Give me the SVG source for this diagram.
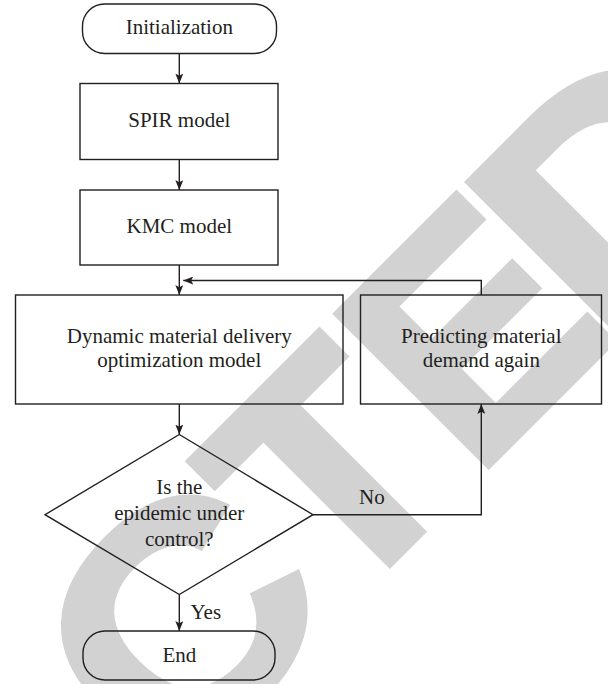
<svg xmlns="http://www.w3.org/2000/svg" width="608" height="684" viewBox="0 0 608 684">
<defs>
<style>
.wm{font-family:"Liberation Sans",Arial,sans-serif;font-weight:bold;font-size:310px;fill:#d2d2d2;stroke:#d2d2d2;stroke-width:8;stroke-linejoin:miter}
.box{fill:none;stroke:#231f20;stroke-width:1.4}
.lbl{font-family:"Liberation Serif","Times New Roman",serif;font-size:21px;fill:#231f20;text-anchor:middle}
.side{font-family:"Liberation Serif","Times New Roman",serif;font-size:21px;fill:#231f20}
.conn{fill:none;stroke:#231f20;stroke-width:1.4}
</style>
<marker id="ah" viewBox="0 0 10 8" refX="10" refY="4" markerWidth="10" markerHeight="8" markerUnits="userSpaceOnUse" orient="auto">
<path d="M0,0 L10,4 L0,8 L2.2,4 z" fill="#231f20"/>
</marker>
</defs>
<rect width="608" height="684" fill="#ffffff"/>
<g id="watermark" transform="rotate(-45)">
<text class="wm" x="-446" y="674" text-anchor="end">RETRA</text>
<text class="wm" transform="translate(-438,674) scale(1.12,1)" x="0" y="0">C</text>
<text class="wm" x="-195" y="674">T</text>
<text class="wm" x="-3.6" y="674">E</text>
<text class="wm" transform="translate(180.7,674) scale(1.12,1)" x="0" y="0">D</text>
</g>
<g id="connectors">
<line class="conn" x1="179.3" y1="53.5" x2="179.3" y2="83.5" marker-end="url(#ah)"/>
<line class="conn" x1="179.3" y1="159.5" x2="179.3" y2="190" marker-end="url(#ah)"/>
<line class="conn" x1="179.3" y1="265" x2="179.3" y2="295" marker-end="url(#ah)"/>
<polyline class="conn" points="481.3,295 481.3,280.5 183.3,280.5" marker-end="url(#ah)"/>
<line class="conn" x1="179.3" y1="404" x2="179.3" y2="434.5" marker-end="url(#ah)"/>
<polyline class="conn" points="313,514.7 481.3,514.7 481.3,404" marker-end="url(#ah)"/>
<line class="conn" x1="179.3" y1="594.5" x2="179.3" y2="631" marker-end="url(#ah)"/>
<text class="side" x="359" y="504">No</text>
<text class="side" x="190.5" y="619">Yes</text>
</g>
<g id="init">
<rect class="box" x="82.5" y="4" width="194" height="49.5" rx="22" ry="22"/>
<text class="lbl" x="179.3" y="34.3">Initialization</text>
</g>
<g id="spir">
<rect class="box" x="80" y="83.5" width="198" height="76"/>
<text class="lbl" x="179.3" y="126.7">SPIR model</text>
</g>
<g id="kmc">
<rect class="box" x="80" y="190" width="198" height="75"/>
<text class="lbl" x="179.3" y="233">KMC model</text>
</g>
<g id="dynamic">
<rect class="box" x="15.5" y="295" width="327.5" height="109"/>
<text class="lbl" x="179.3" y="342.5">Dynamic material delivery</text>
<text class="lbl" x="179.3" y="367">optimization model</text>
</g>
<g id="predict">
<rect class="box" x="360.5" y="295" width="241" height="109"/>
<text class="lbl" x="481.3" y="342.5">Predicting material</text>
<text class="lbl" x="481.3" y="367">demand again</text>
</g>
<g id="decision">
<polygon class="box" points="179.3,434.5 313,514.7 179.3,594.5 45,514.7"/>
<text class="lbl" x="179.3" y="494">Is the</text>
<text class="lbl" x="179.3" y="520">epidemic under</text>
<text class="lbl" x="179.3" y="546">control?</text>
</g>
<g id="end">
<rect class="box" x="83" y="631" width="192" height="49" rx="22" ry="22"/>
<text class="lbl" x="179.3" y="662">End</text>
</g>
</svg>
